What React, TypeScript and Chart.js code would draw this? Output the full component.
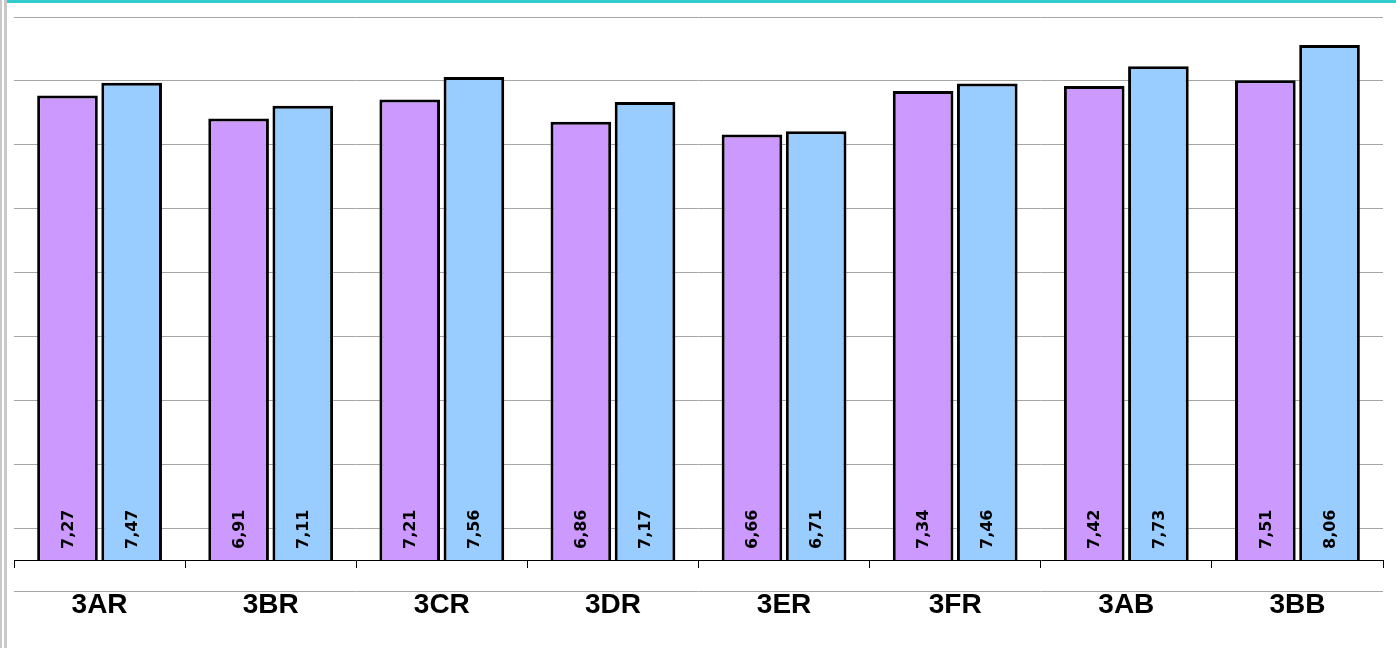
import React, { useEffect, useRef } from "react";
import { Chart, registerables } from "chart.js";

Chart.register(...registerables);

const categories = ["3AR", "3BR", "3CR", "3DR", "3ER", "3FR", "3AB", "3BB"];
const seriesA = [7.27, 6.91, 7.21, 6.86, 6.66, 7.34, 7.42, 7.51];
const seriesB = [7.47, 7.11, 7.56, 7.17, 6.71, 7.46, 7.73, 8.06];
const gridTicks = [0.5, 1.5, 2.5, 3.5, 4.5, 5.5, 6.5, 7.5, 8.5];

const valueLabels = {
  id: "valueLabels",
  afterDatasetsDraw(chart: any) {
    const ctx = chart.ctx;
    ctx.save();
    ctx.font = "bold 16px 'DejaVu Sans'";
    ctx.fillStyle = "#000";
    ctx.textAlign = "left";
    ctx.textBaseline = "middle";
    chart.data.datasets.forEach((ds: any, di: number) => {
      const meta = chart.getDatasetMeta(di);
      meta.data.forEach((el: any, i: number) => {
        const v = ds.data[i] as number;
        const txt = v.toFixed(2).replace(".", ",");
        ctx.save();
        ctx.translate(el.x + 1, el.base - 11);
        ctx.rotate(-Math.PI / 2);
        ctx.fillText(txt, 0, 0);
        ctx.restore();
      });
    });
    ctx.restore();
  },
};

const bottomLine = {
  id: "bottomLine",
  afterDraw(chart: any) {
    const ctx = chart.ctx;
    const a = chart.chartArea;
    ctx.save();
    ctx.strokeStyle = "#a6a6a6";
    ctx.lineWidth = 1;
    ctx.beginPath();
    ctx.moveTo(a.left, a.bottom + 31.5);
    ctx.lineTo(a.right, a.bottom + 31.5);
    ctx.stroke();
    ctx.restore();
  },
};

export default function App() {
  const ref = useRef<HTMLCanvasElement>(null);
  useEffect(() => {
    document.body.style.margin = "0";
    const chart = new Chart(ref.current!, {
      type: "bar",
      data: {
        labels: categories,
        datasets: [
          {
            data: seriesA,
            backgroundColor: "#CC99FF",
            borderColor: "#000",
            borderWidth: 3,
            categoryPercentage: 0.75,
            barPercentage: 0.945,
          },
          {
            data: seriesB,
            backgroundColor: "#99CCFF",
            borderColor: "#000",
            borderWidth: 3,
            categoryPercentage: 0.75,
            barPercentage: 0.945,
          },
        ],
      },
      options: {
        animation: false,
        responsive: false,
        maintainAspectRatio: false,
        layout: { padding: { left: 14, right: 13, top: 17, bottom: 0 } },
        plugins: { legend: { display: false }, tooltip: { enabled: false } },
        scales: {
          x: {
            grid: {
              drawOnChartArea: false,
              drawTicks: true,
              tickLength: 8,
              color: "#000",
              offset: true,
            },
            border: { display: true, color: "#000", width: 1 },
            ticks: {
              color: "#000",
              font: { family: "'Liberation Sans'", size: 28, weight: "bold" },
              padding: 20,
              maxRotation: 0,
            },
            afterFit(scale: any) {
              scale.height = 88;
            },
          },
          y: {
            min: 0,
            max: 8.5,
            afterBuildTicks(scale: any) {
              scale.ticks = gridTicks.map((v) => ({ value: v }));
            },
            grid: { color: "#a6a6a6", lineWidth: 1, drawTicks: false },
            border: { display: false },
            ticks: { display: false },
            afterFit(scale: any) {
              scale.width = 0;
            },
          },
        },
      },
      plugins: [valueLabels, bottomLine],
    });
    return () => chart.destroy();
  }, []);
  return (
    <div style={{ position: "absolute", left: 0, top: 0, width: 1396, height: 648, background: "#fff" }}>
      <canvas ref={ref} width={1396} height={648} style={{ position: "absolute", left: 0, top: 0 }} />
      <div style={{ position: "absolute", left: 0, top: 0, width: 2, height: 648, background: "#c8c8c8" }} />
      <div style={{ position: "absolute", left: 4, top: 0, width: 3, height: 648, background: "#c8c8c8" }} />
      <div style={{ position: "absolute", left: 7, top: 0, width: 1389, height: 3, background: "#33CCCC" }} />
    </div>
  );
}
